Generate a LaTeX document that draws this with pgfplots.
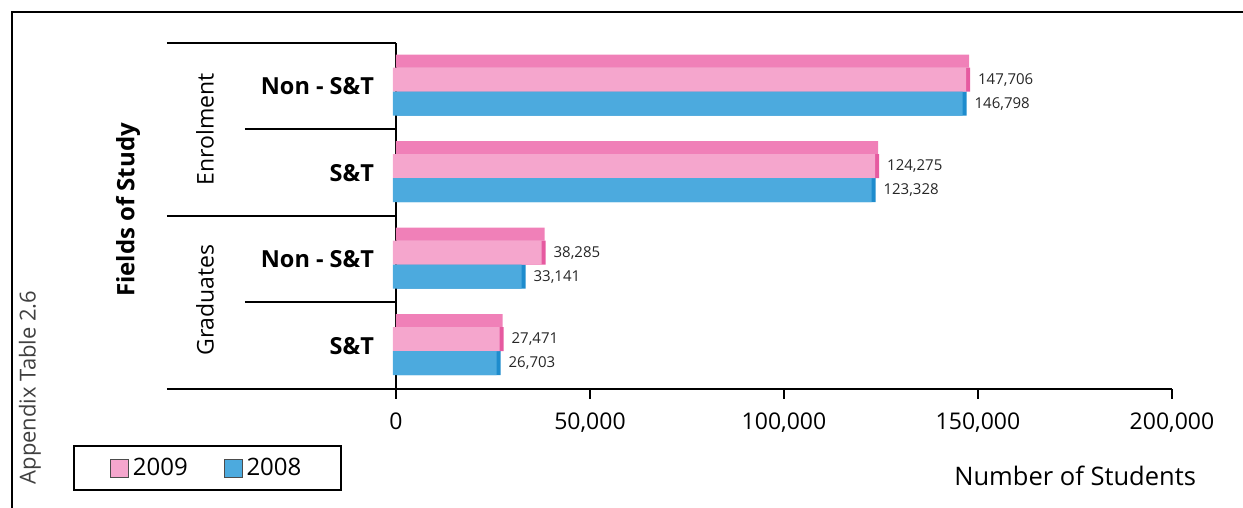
\documentclass[border=0pt]{standalone}
\usepackage{fontspec}
\setmainfont{Open Sans}
\usepackage{pgfplots}
\pgfplotsset{compat=1.18}
\definecolor{pinkfront}{RGB}{245,166,205}
\definecolor{pinktop}{RGB}{240,128,184}
\definecolor{pinkside}{RGB}{230,90,160}
\definecolor{bluefront}{RGB}{76,170,222}
\definecolor{blueside}{RGB}{30,140,205}
\begin{document}
\begin{tikzpicture}
\useasboundingbox (-198pt,-59.5pt) rectangle (423.5pt,194.5pt);
\begin{axis}[
  scale only axis, width=388pt, height=173pt,
  xmin=0, xmax=200000, ymin=0.5, ymax=4.5,
  axis x line*=bottom, axis y line*=left,
  axis line style={-, line width=1pt},
  xtick={0,50000,100000,150000,200000},
  xticklabels={{0},{50,000},{100,000},{150,000},{200,000}},
  scaled x ticks=false,
  xticklabel style={font=\fontsize{11.5}{13}\selectfont, yshift=-3.5pt},
  tick align=outside, major tick length=5pt,
  x tick style={line width=1pt, black},
  ytick={1,2,3,4},
  yticklabels={S\&T, Non - S\&T, S\&T, Non - S\&T},
  y tick style={draw=none},
  yticklabel style={font=\bfseries\fontsize{11.75}{14}\selectfont, xshift=-2.5pt},
  clip=false,
  legend columns=2,
  legend style={at={(-0.4162,-0.1618)}, anchor=north west, draw=black, line width=1pt,
    font=\fontsize{12}{14}\selectfont, inner xsep=18pt, inner ysep=4pt,
    /tikz/every even column/.append style={column sep=16pt}},
  legend image code/.code={\draw[#1, draw=black!70, line width=0.4pt] (0pt,-4.5pt) rectangle (9pt,4.5pt);},
  point meta=explicit symbolic,
  every node near coord/.append style={font=\fontsize{7.5}{9}\selectfont, anchor=west, xshift=2.5pt, text=black!85},
]
\addplot[xbar, bar width=6.5pt, bar shift=12.5pt, fill=pinktop, draw=none, forget plot]
  coordinates {(147706,4) (124275,3) (38285,2) (27471,1)};
\addplot[xbar, bar width=12pt, bar shift=3.25pt, fill=pinkside, draw=none, xshift=0.5pt, forget plot]
  coordinates {(147706,4) (124275,3) (38285,2) (27471,1)};
\addplot[xbar, bar width=12pt, bar shift=-8.75pt, fill=blueside, draw=none, xshift=0.5pt, forget plot]
  coordinates {(146798,4) (123328,3) (33141,2) (26703,1)};
\addplot[xbar, bar width=12pt, bar shift=3.25pt, fill=pinkfront, draw=none, xshift=-1.5pt,
  nodes near coords, every node near coord/.append style={yshift=3.25pt}]
  coordinates {(147706,4) [147,706] (124275,3) [124,275] (38285,2) [38,285] (27471,1) [27,471]};
\addplot[xbar, bar width=12pt, bar shift=-8.75pt, fill=bluefront, draw=none, xshift=-1.5pt,
  nodes near coords, every node near coord/.append style={yshift=-8.75pt}]
  coordinates {(146798,4) [146,798] (123328,3) [123,328] (33141,2) [33,141] (26703,1) [26,703]};
\legend{2009,2008}
\end{axis}
\draw[line width=1pt] (-114.5pt,173pt) -- (0,173pt);
\draw[line width=1pt] (-75.5pt,129.75pt) -- (0,129.75pt);
\draw[line width=1pt] (-114.5pt,86.5pt) -- (0,86.5pt);
\draw[line width=1pt] (-75.5pt,43.25pt) -- (0,43.25pt);
\draw[line width=1pt] (-114.5pt,0pt) -- (0,0pt);
\draw[line width=1pt] (-192pt,-59.5pt) -- (-192pt,188.5pt) -- (423.5pt,188.5pt);
\node[rotate=90, font=\bfseries\fontsize{12}{14}\selectfont] at (-134pt,89.5pt) {Fields of Study};
\node[rotate=90, font=\fontsize{11.5}{14}\selectfont] at (-95.5pt,130pt) {Enrolment};
\node[rotate=90, font=\fontsize{11.5}{14}\selectfont] at (-95.5pt,44.5pt) {Graduates};
\node[rotate=90, text=black!75, font=\fontsize{11}{13}\selectfont] at (-183pt,0.75pt) {Appendix Table 2.6};
\node[anchor=east, font=\fontsize{12.75}{15}\selectfont] at (403.5pt,-43.5pt) {Number of Students};
\end{tikzpicture}
\end{document}
